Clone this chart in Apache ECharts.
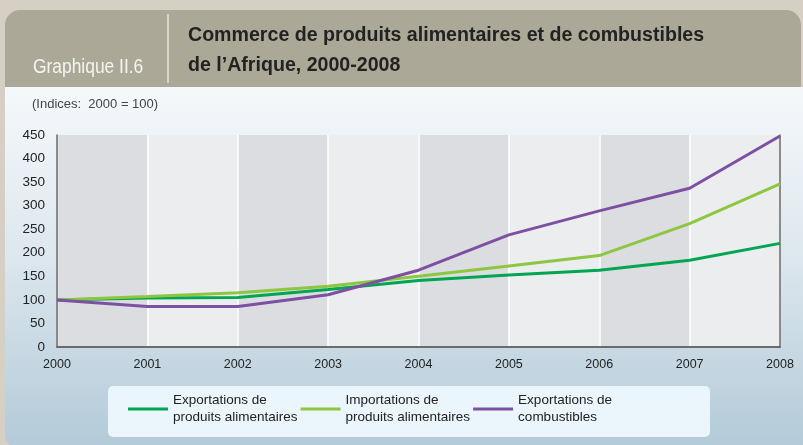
<!DOCTYPE html>
<html>
<head>
<meta charset="utf-8">
<script src="https://cdn.jsdelivr.net/npm/echarts@6/dist/echarts.min.js"></script>
<style>
  html, body { margin: 0; padding: 0; background: #d6d0c4; }
  #chart { width: 803px; height: 445px; }
</style>
</head>
<body>
<div id="chart"></div>
<script>
const years = ['2000', '2001', '2002', '2003', '2004', '2005', '2006', '2007', '2008']
const exportsFood = [100, 104, 105, 122, 141, 153, 163, 184, 220]
const importsFood = [100, 107, 115, 129, 150, 172, 194, 262, 346]
const exportsFuel = [100, 86, 86, 111, 163, 238, 289, 337, 448]
const seriesNames = [
  'Exportations de\nproduits alimentaires',
  'Importations de\nproduits alimentaires',
  'Exportations de\ncombustibles'
]
const seriesColors = ['#00a651', '#8dc63f', '#7d50a3']

const font = '"Liberation Sans", Arial, sans-serif'

const chart = echarts.init(document.getElementById('chart'))

const makeLine = (name, data, color) => ({
  name,
  type: 'line',
  data,
  symbol: 'none',
  lineStyle: { color, width: 3 },
  itemStyle: { color },
  z: 5
})

chart.setOption({
  animation: false,
  backgroundColor: '#d6d0c4',
  graphic: [
    {
      type: 'rect',
      z: -10,
      shape: { x: 5, y: 87, width: 800, height: 360, r: [0, 0, 0, 12] },
      style: {
        fill: new echarts.graphic.LinearGradient(0, 0, 0, 1, [
          { offset: 0, color: '#f5f8fb' },
          { offset: 0.45, color: '#dee8ef' },
          { offset: 1, color: '#b3cad8' }
        ])
      }
    },
    {
      type: 'rect',
      z: -10,
      shape: { x: 5, y: 10, width: 796, height: 77, r: [15, 15, 0, 0] },
      style: { fill: '#aba898' }
    },
    {
      type: 'line',
      z: -9,
      shape: { x1: 168, y1: 14, x2: 168, y2: 83 },
      style: { stroke: '#e6e4dc', lineWidth: 1.5 }
    },
    {
      type: 'text',
      z: -9,
      x: 33, y: 57,
      scaleX: 0.87,
      style: { text: 'Graphique II.6', fill: '#f4f4f0', font: '20px ' + font }
    },
    {
      type: 'text',
      z: -9,
      x: 188, y: 21,
      style: {
        text: 'Commerce de produits alimentaires et de combustibles\nde l\u2019Afrique, 2000-2008',
        fill: '#222222',
        font: 'bold 19.6px ' + font,
        lineHeight: 30
      }
    },
    {
      type: 'text',
      z: -9,
      x: 32, y: 98,
      style: { text: '(Indices:  2000 = 100)', fill: '#444444', font: '13px ' + font }
    },
    {
      type: 'rect',
      z: -9,
      shape: { x: 108, y: 386, width: 602, height: 51, r: 5 },
      style: { fill: '#ebf5fc' }
    }
  ],
  grid: { left: 57, right: 23, top: 135, bottom: 98, containLabel: false },
  legend: {
    left: 128,
    top: 392,
    itemWidth: 40,
    itemHeight: 3,
    itemGap: 3,
    icon: 'rect',
    data: seriesNames,
    textStyle: { fontFamily: font, fontSize: 13.5, color: '#222222', lineHeight: 17 },
    padding: 0
  },
  xAxis: [
    {
      type: 'category',
      data: years,
      boundaryGap: false,
      axisLine: { show: true, lineStyle: { color: '#666666', width: 1.5 } },
      axisTick: { show: false },
      axisLabel: { color: '#222222', fontFamily: font, fontSize: 12.5, margin: 11 },
      splitLine: { show: true, lineStyle: { color: '#ffffff', width: 1.5 } },
      splitArea: { show: true, areaStyle: { color: ['#dcdde0', '#ecedef'] } }
    },
    {
      type: 'category',
      data: years,
      position: 'top',
      boundaryGap: false,
      axisLine: { show: true, lineStyle: { color: '#666666', width: 1.5 } },
      axisTick: { show: false },
      axisLabel: { show: false }
    }
  ],
  yAxis: [
    {
      type: 'value',
      min: 0,
      max: 450,
      interval: 50,
      axisLine: { show: true, lineStyle: { color: '#666666', width: 1.5 } },
      axisTick: { show: false },
      axisLabel: { color: '#222222', fontFamily: font, fontSize: 13.5, margin: 12 },
      splitLine: { show: true, lineStyle: { color: '#a9a9a9', type: [4, 3], width: 1 } }
    },
    {
      type: 'value',
      min: 0,
      max: 450,
      interval: 50,
      position: 'right',
      axisLine: { show: true, lineStyle: { color: '#666666', width: 1.5 } },
      axisTick: { show: false },
      axisLabel: { show: false },
      splitLine: { show: false }
    }
  ],
  series: [
    makeLine(seriesNames[0], exportsFood, seriesColors[0]),
    makeLine(seriesNames[1], importsFood, seriesColors[1]),
    makeLine(seriesNames[2], exportsFuel, seriesColors[2])
  ]
})
</script>
</body>
</html>
